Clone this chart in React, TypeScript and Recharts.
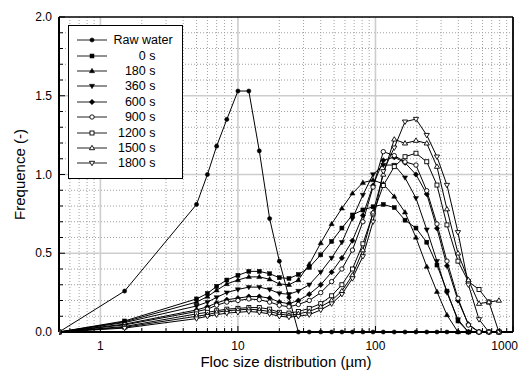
import { LineChart, Line, XAxis, YAxis, CartesianGrid, ReferenceLine } from 'recharts'

const FONT = '"Liberation Sans", Arial, sans-serif'
const W = 519
const H = 365
const Y_AXIS_W = 51 // left margin is 0, so the y axis line sits at this x

// floc size bins (µm)
const sizes = [0.5, 1.5, 5, 6, 7, 8.3, 10, 12, 14.3, 17, 20, 23.5, 27.5, 33, 40, 48, 57, 68, 81, 96, 114, 137, 164, 197, 236, 280, 331, 398, 474, 566, 668, 790]

const rawWater = [0, 0.26, 0.81, 1.0, 1.18, 1.35, 1.53, 1.53, 1.15, 0.72, 0.45, 0.22, 0, 0, 0, 0, 0, 0, 0, 0, 0, 0, 0, 0, 0, 0, 0, 0, 0, 0, 0, 0]
const t0 = [0, 0.07, 0.21, 0.245, 0.29, 0.33, 0.36, 0.385, 0.385, 0.37, 0.345, 0.34, 0.365, 0.41, 0.49, 0.575, 0.66, 0.743, 0.775, 0.795, 0.81, 0.79, 0.71, 0.66, 0.57, 0.425, 0.26, 0.07, 0, 0, 0, 0]
const t180 = [0, 0.065, 0.19, 0.225, 0.265, 0.305, 0.33, 0.35, 0.35, 0.335, 0.305, 0.3, 0.33, 0.43, 0.565, 0.686, 0.785, 0.88, 0.948, 0.965, 0.94, 0.86, 0.76, 0.6, 0.415, 0.256, 0.108, 0, 0, 0, 0, 0]
const t360 = [0, 0.06, 0.165, 0.19, 0.22, 0.25, 0.27, 0.285, 0.285, 0.27, 0.245, 0.24, 0.26, 0.3, 0.38, 0.47, 0.57, 0.72, 0.87, 1.0, 1.06, 1.06, 0.98, 0.85, 0.65, 0.45, 0.25, 0.08, 0, 0, 0, 0]
const t600 = [0, 0.05, 0.14, 0.16, 0.185, 0.205, 0.215, 0.225, 0.225, 0.215, 0.19, 0.18, 0.2, 0.24, 0.3, 0.38, 0.47, 0.58, 0.74, 0.93, 1.09, 1.11, 1.075, 1.0, 0.876, 0.658, 0.42, 0.2, 0.05, 0, 0, 0]
const t900 = [0, 0.045, 0.13, 0.145, 0.17, 0.19, 0.2, 0.21, 0.205, 0.19, 0.17, 0.16, 0.175, 0.2, 0.25, 0.32, 0.4, 0.52, 0.7, 0.92, 1.145, 1.12, 1.08, 1.06, 0.897, 0.686, 0.45, 0.214, 0.044, 0, 0, 0]
const t1200 = [0, 0.035, 0.115, 0.125, 0.135, 0.145, 0.15, 0.155, 0.155, 0.145, 0.125, 0.12, 0.13, 0.15, 0.18, 0.23, 0.3, 0.4, 0.56, 0.75, 0.93, 1.05, 1.113, 1.135, 1.081, 0.933, 0.68, 0.45, 0.32, 0.27, 0.19, 0]
const t1500 = [0, 0.03, 0.1, 0.11, 0.125, 0.135, 0.14, 0.145, 0.14, 0.13, 0.115, 0.105, 0.115, 0.13, 0.16, 0.2, 0.26, 0.36, 0.52, 0.76, 1.0, 1.223, 1.198, 1.215, 1.198, 1.05, 0.78, 0.5, 0.33, 0.18, 0.19, 0.2]
const t1800 = [0, 0.025, 0.085, 0.1, 0.11, 0.12, 0.125, 0.13, 0.125, 0.115, 0.1, 0.095, 0.1, 0.11, 0.14, 0.18, 0.24, 0.34, 0.48, 0.7, 1.02, 1.17, 1.335, 1.352, 1.25, 1.113, 0.933, 0.633, 0.3, 0.08, 0, 0]

const xTicks = [0.5, 0.6, 0.7, 0.8, 0.9, 1, 2, 3, 4, 5, 6, 7, 8, 9, 10, 20, 30, 40, 50, 60, 70, 80, 90, 100, 200, 300, 400, 500, 600, 700, 800, 900, 1000]
const xMajor = [1, 10, 100, 1000]
const yTicks = [0, 0.1, 0.2, 0.3, 0.4, 0.5, 0.6, 0.7, 0.8, 0.9, 1.0, 1.1, 1.2, 1.3, 1.4, 1.5, 1.6, 1.7, 1.8, 1.9, 2.0]
const yMajor = [0, 0.5, 1.0, 1.5, 2.0]
const minorX = [0.6, 0.7, 0.8, 0.9, 2, 3, 4, 5, 6, 7, 8, 9, 20, 30, 40, 50, 60, 70, 80, 90, 200, 300, 400, 500, 600, 700, 800, 900]
const minorY = [0.1, 0.2, 0.3, 0.4, 0.6, 0.7, 0.8, 0.9, 1.1, 1.2, 1.3, 1.4, 1.6, 1.7, 1.8, 1.9]

type Shape = 'circle' | 'square' | 'up' | 'down' | 'diamond'
const SERIES: { key: string; name: string; values: number[]; shape: Shape; filled: boolean }[] = [
  { key: 'raw', name: 'Raw water', values: rawWater, shape: 'circle', filled: true },
  { key: 's0', name: '0 s', values: t0, shape: 'square', filled: true },
  { key: 's180', name: '180 s', values: t180, shape: 'up', filled: true },
  { key: 's360', name: '360 s', values: t360, shape: 'down', filled: true },
  { key: 's600', name: '600 s', values: t600, shape: 'diamond', filled: true },
  { key: 's900', name: '900 s', values: t900, shape: 'circle', filled: false },
  { key: 's1200', name: '1200 s', values: t1200, shape: 'square', filled: false },
  { key: 's1500', name: '1500 s', values: t1500, shape: 'up', filled: false },
  { key: 's1800', name: '1800 s', values: t1800, shape: 'down', filled: false },
]

const rows = sizes.map((x, i) => {
  const r: any = { x }
  SERIES.forEach(s => (r[s.key] = s.values[i]))
  return r
})

function Marker({ cx, cy, shape, filled }: { cx: number; cy: number; shape: Shape; filled: boolean }) {
  const fill = filled ? '#000' : '#fff'
  const common = { fill, stroke: '#000', strokeWidth: filled ? 0.5 : 0.9 }
  if (shape === 'circle') return <circle cx={cx} cy={cy} r={filled ? 2.1 : 2.2} {...common} />
  if (shape === 'square') return <rect x={cx - 2} y={cy - 2} width={4} height={4} {...common} />
  if (shape === 'up') return <polygon points={`${cx},${cy - 2.7} ${cx + 2.6},${cy + 1.7} ${cx - 2.6},${cy + 1.7}`} {...common} />
  if (shape === 'down') return <polygon points={`${cx},${cy + 2.7} ${cx + 2.6},${cy - 1.7} ${cx - 2.6},${cy - 1.7}`} {...common} />
  return <polygon points={`${cx},${cy - 2.7} ${cx + 2.7},${cy} ${cx},${cy + 2.7} ${cx - 2.7},${cy}`} {...common} />
}

const XTick = (props: any) => {
  const { x, y, payload } = props
  const v = payload.value
  const major = xMajor.includes(v)
  // the last label sits on the right frame; keep it inside the visible area
  const last = v === 1000
  return (
    <g>
      <line x1={x} x2={x} y1={y} y2={y - (major ? 6 : 4)} stroke="#000" />
      {major && (
        <text
          x={last ? x + 5 : x}
          y={y + 14}
          textAnchor={last ? 'end' : 'middle'}
          dominantBaseline="central"
          fontSize={12}
          fill="#000"
          fontFamily={FONT}
        >
          {v}
        </text>
      )}
    </g>
  )
}

const YTick = (props: any) => {
  const { y, payload } = props
  const x = Y_AXIS_W
  const v = payload.value
  const major = yMajor.some(m => Math.abs(m - v) < 1e-6)
  return (
    <g>
      <line x1={x} x2={x + (major ? 6 : 4)} y1={y} y2={y} stroke="#000" />
      {major && (
        <text x={x - 7} y={y} textAnchor="end" dominantBaseline="central" fontSize={12} fill="#000" fontFamily={FONT}>
          {v.toFixed(1)}
        </text>
      )}
    </g>
  )
}

function LegendBox() {
  return (
    <div
      style={{
        position: 'absolute', left: 60, top: 17, width: 115, height: 154, boxSizing: 'border-box',
        border: '1.5px solid #000', background: '#fff', fontFamily: FONT, fontSize: 12.5, color: '#000',
      }}
    >
      {SERIES.map((s, i) => {
        const c = 14.2 + i * 15.4
        return (
          <div key={s.key} style={{ position: 'absolute', left: 0, top: c - 7, width: '100%', height: 14, lineHeight: '14px' }}>
            <svg width={32} height={14} style={{ position: 'absolute', left: 7.5, top: 0 }}>
              <line x1={0} x2={30} y1={7} y2={7} stroke="#222" strokeWidth={1} />
              <Marker cx={15} cy={7} shape={s.shape} filled={s.filled} />
            </svg>
            {i === 0 ? (
              <span style={{ position: 'absolute', left: 44.5, whiteSpace: 'nowrap' }}>{s.name}</span>
            ) : (
              <span style={{ position: 'absolute', left: 0, width: 86.5, textAlign: 'right', whiteSpace: 'nowrap' }}>{s.name}</span>
            )}
          </div>
        )
      })}
    </div>
  )
}

export default function App() {
  return (
    <div style={{ position: 'relative', width: W, height: H, fontFamily: FONT }}>
      <LineChart width={W} height={H} data={rows} margin={{ top: 9, right: 14, bottom: 0, left: 0 }}>
        <CartesianGrid stroke="#a0a0a0" strokeDasharray="1 2" verticalValues={minorX} horizontalValues={minorY} />
        <CartesianGrid stroke="#cdcdcd" strokeWidth={1.6} verticalValues={[1, 10, 100]} horizontalValues={[0.5, 1, 1.5]} />
        <XAxis
          dataKey="x"
          type="number"
          scale="log"
          domain={[0.5, 1000]}
          allowDataOverflow
          ticks={xTicks}
          interval={0}
          tickSize={0}
          tickMargin={0}
          tick={<XTick />}
          axisLine={{ stroke: '#000', strokeWidth: 2 }}
          height={41}
          label={{ value: 'Floc size distribution (µm)', position: 'insideBottom', offset: 6, fontSize: 15, fill: '#000' }}
        />
        <YAxis
          type="number"
          domain={[0, 2]}
          ticks={yTicks}
          interval={0}
          tickSize={0}
          tickMargin={0}
          tick={<YTick />}
          axisLine={{ stroke: '#000', strokeWidth: 2 }}
          width={Y_AXIS_W}
          label={{ value: 'Frequence (-)', angle: -90, position: 'insideLeft', offset: 12, fontSize: 15, fill: '#000', style: { textAnchor: 'middle' } }}
        />
        <ReferenceLine y={2} stroke="#000" strokeWidth={1.5} />
        <ReferenceLine x={1000} stroke="#000" strokeWidth={1.8} />
        {SERIES.map(s => (
          <Line
            key={s.key}
            dataKey={s.key}
            name={s.name}
            stroke="#000"
            strokeWidth={1}
            isAnimationActive={false}
            activeDot={false}
            dot={(p: any) => <Marker key={`${s.key}-${p.index}`} cx={p.cx} cy={p.cy} shape={s.shape} filled={s.filled} />}
          />
        ))}
      </LineChart>
      <LegendBox />
    </div>
  )
}
